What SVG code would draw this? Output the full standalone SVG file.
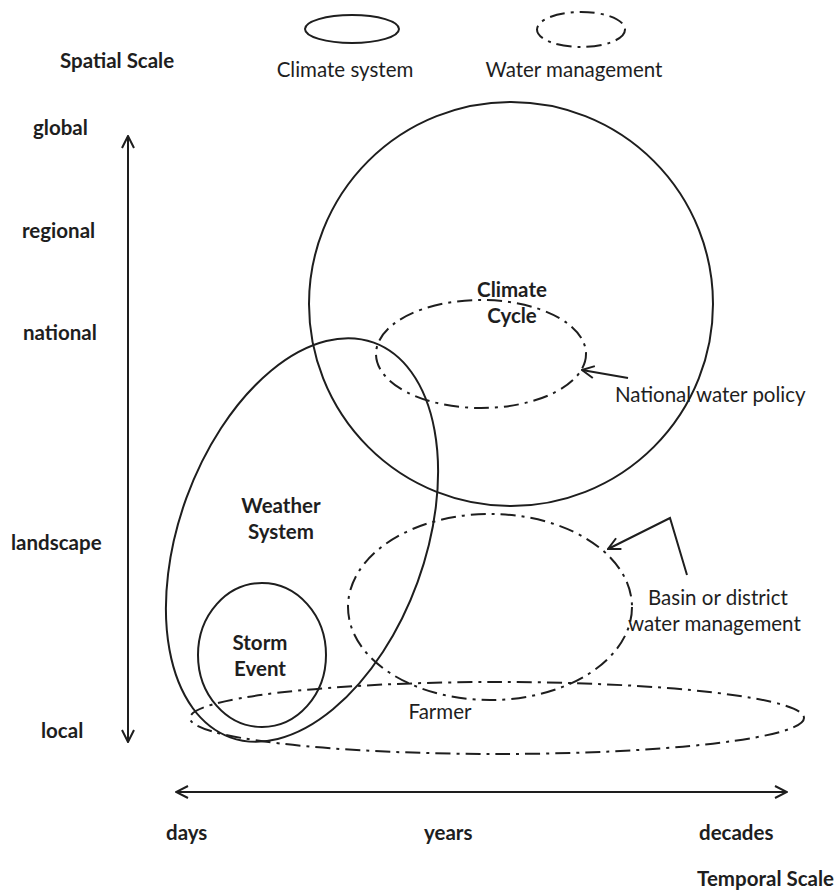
<svg xmlns="http://www.w3.org/2000/svg" width="837" height="892" viewBox="0 0 837 892">
  <style>
    text { font-family: Lato, "Liberation Sans", sans-serif; fill: #1e1e1e; font-size: 20.5px; }
    .b { font-weight: bold; }
    .mid { text-anchor: middle; }
    .end { text-anchor: end; }
    .solid { fill: none; stroke: #1e1e1e; stroke-width: 2; }
    .dashdot { fill: none; stroke: #1e1e1e; stroke-width: 2; stroke-dasharray: 15 6 3 6; }
    .line { fill: none; stroke: #1e1e1e; stroke-width: 2; }
  </style>
  <defs>
    <marker id="chev" viewBox="0 0 14 14" refX="13" refY="7" markerWidth="14" markerHeight="14" markerUnits="userSpaceOnUse" orient="auto-start-reverse">
      <path d="M1,1 L13,7 L1,13" fill="none" stroke="#1e1e1e" stroke-width="2"/>
    </marker>
  </defs>
  <rect width="837" height="892" fill="#ffffff"/>

  <!-- legend -->
  <g id="legend">
    <text class="b" x="60" y="68">Spatial Scale</text>
    <ellipse class="solid" cx="352" cy="29" rx="47" ry="14"/>
    <text class="mid" x="345" y="77">Climate system</text>
    <ellipse class="dashdot" cx="581" cy="29.5" rx="44" ry="17.5"/>
    <text class="mid" x="574" y="77">Water management</text>
  </g>

  <!-- spatial axis labels -->
  <g id="spatial-labels">
    <text class="b" x="33" y="135">global</text>
    <text class="b" x="22" y="238">regional</text>
    <text class="b" x="23" y="340">national</text>
    <text class="b" x="11" y="550">landscape</text>
    <text class="b" x="41" y="738">local</text>
  </g>

  <!-- temporal axis labels -->
  <g id="temporal-labels">
    <text class="b" x="166" y="840">days</text>
    <text class="b" x="424" y="840">years</text>
    <text class="b" x="699" y="840">decades</text>
    <text class="b end" x="834" y="886">Temporal Scale</text>
  </g>

  <g id="climate-cycle">
    <circle class="solid" cx="511" cy="304" r="202"/>
    <text class="b mid" x="512" y="297">Climate</text>
    <text class="b mid" x="512" y="323">Cycle</text>
  </g>

  <g id="national-water-policy">
    <ellipse class="dashdot" cx="481" cy="354" rx="105" ry="54"/>
    <text x="615" y="402">National water policy</text>
  </g>

  <g id="weather-system">
    <ellipse class="solid" cx="302" cy="540" rx="123" ry="210" transform="rotate(20 302 540)"/>
    <text class="b mid" x="281" y="513">Weather</text>
    <text class="b mid" x="281" y="539">System</text>
  </g>

  <g id="basin-water-management">
    <ellipse class="dashdot" cx="490" cy="607" rx="142" ry="93"/>
    <text x="648" y="605">Basin or district</text>
    <text x="628" y="631">water management</text>
  </g>

  <g id="storm-event">
    <ellipse class="solid" cx="262" cy="655" rx="64" ry="72"/>
    <text class="b mid" x="260" y="650">Storm</text>
    <text class="b mid" x="260" y="676">Event</text>
  </g>

  <g id="farmer">
    <ellipse class="dashdot" cx="497" cy="718" rx="307" ry="36"/>
    <text class="mid" x="440" y="719">Farmer</text>
  </g>

  <g id="connectors">
    <line class="line" x1="128" y1="136" x2="128" y2="742" marker-start="url(#chev)" marker-end="url(#chev)"/>
    <line class="line" x1="176" y1="792" x2="787" y2="792" marker-start="url(#chev)" marker-end="url(#chev)"/>
    <line class="line" x1="628" y1="378" x2="582" y2="370" marker-end="url(#chev)"/>
    <polyline class="line" points="687,575 670,518 608,549" marker-end="url(#chev)"/>
  </g>
</svg>
